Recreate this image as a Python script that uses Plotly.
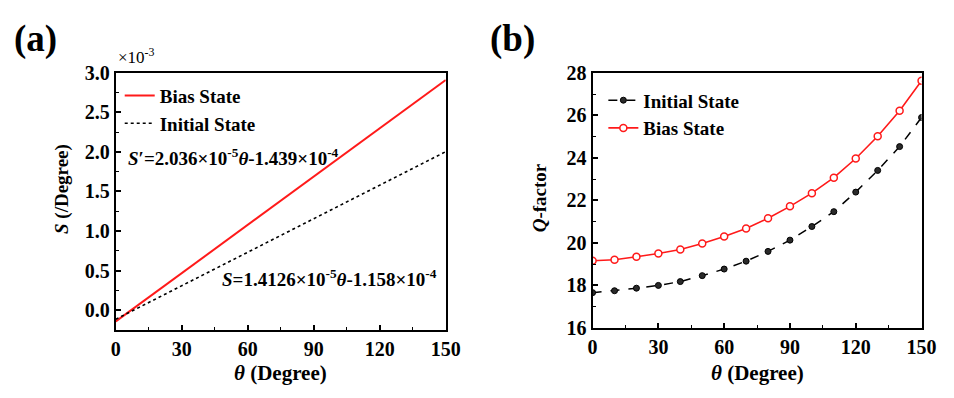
import plotly.graph_objects as go

# ---------------- data ----------------
theta_a = [0, 150]
S_bias = [-0.144, 2.910]      # x10^-3 /Degree
S_init = [-0.116, 2.003]

theta_b = [0, 10, 20, 30, 40, 50, 60, 70, 80, 90, 100, 110, 120, 130, 140, 150]
Q_init = [17.66, 17.75, 17.87, 18.00, 18.18, 18.46, 18.77, 19.14, 19.60, 20.13,
          20.77, 21.47, 22.39, 23.41, 24.53, 25.90]
Q_bias = [19.16, 19.21, 19.35, 19.50, 19.69, 19.97, 20.30, 20.68, 21.16, 21.72,
          22.34, 23.07, 23.97, 25.02, 26.22, 27.63]

x_ticks = [0, 30, 60, 90, 120, 150]
ya_ticks = [0.0, 0.5, 1.0, 1.5, 2.0, 2.5, 3.0]
ya_ticklabels = ["0.0", "0.5", "1.0", "1.5", "2.0", "2.5", "3.0"]
yb_ticks = [16, 18, 20, 22, 24, 26, 28]

W, H = 954, 398
OFF = 8  # page body margin
FONT = "Liberation Serif"

def px(x):
    return (x - OFF) / W

def py(y):
    return (H - (y - OFF)) / H

fig = go.Figure()

fig.add_trace(go.Scatter(x=theta_a, y=S_bias, mode="lines", name="<b>Bias State</b>",
                         line=dict(color="#ff1a1a", width=2), xaxis="x", yaxis="y",
                         legend="legend"))
fig.add_trace(go.Scatter(x=theta_a, y=S_init, mode="lines", name="<b>Initial State</b>",
                         line=dict(color="black", width=1.6, dash="dot"), xaxis="x", yaxis="y",
                         legend="legend"))

fig.add_trace(go.Scatter(x=theta_b, y=Q_init, mode="lines+markers", name="<b>Initial State</b>",
                         line=dict(color="black", width=1.5, dash="dash"),
                         marker=dict(symbol="circle", size=6, color="#2a2a2a",
                                     line=dict(color="black", width=1)),
                         xaxis="x2", yaxis="y2", legend="legend2"))
fig.add_trace(go.Scatter(x=theta_b, y=Q_bias, mode="lines+markers", name="<b>Bias State</b>",
                         line=dict(color="#ff1a1a", width=1.6),
                         marker=dict(symbol="circle", size=7, color="white",
                                     line=dict(color="#ff1a1a", width=1.5)),
                         xaxis="x2", yaxis="y2", legend="legend2"))

tickfont = dict(family=FONT, size=20, color="black", weight="bold")
common = dict(showline=True, linewidth=2, linecolor="black", mirror=True,
              ticks="inside", ticklen=5, tickwidth=1.5, tickcolor="black",
              showgrid=False, zeroline=False, tickfont=tickfont)
minor = dict(ticks="inside", ticklen=3, tickwidth=1.2, tickcolor="black", showgrid=False)

fig.update_layout(
    width=W, height=H,
    margin=dict(l=0, r=0, t=0, b=0),
    paper_bgcolor="white", plot_bgcolor="white",
    showlegend=True,
    xaxis=dict(domain=[px(113), px(450)], range=[0, 150], tickvals=x_ticks,
               minor=dict(dtick=15, **minor), anchor="y", **common),
    yaxis=dict(domain=[py(337), py(65)], range=[-0.25, 3.0], tickvals=ya_ticks,
               ticktext=ya_ticklabels, minor=dict(dtick=0.25, tick0=0, **minor),
               anchor="x", **common),
    xaxis2=dict(domain=[px(600), px(936)], range=[0, 150], tickvals=x_ticks,
                minor=dict(dtick=15, **minor), anchor="y2", **common),
    yaxis2=dict(domain=[py(335), py(65)], range=[16, 28], tickvals=yb_ticks,
                minor=dict(dtick=1, tick0=16, **minor), anchor="x2", **common),
    legend=dict(x=px(117), y=py(69), xanchor="left", yanchor="top",
                bgcolor="rgba(0,0,0,0)", font=dict(family=FONT, size=19, color="black"),
                tracegroupgap=0, itemwidth=30),
    legend2=dict(x=px(611), y=py(74), xanchor="left", yanchor="top",
                 bgcolor="rgba(0,0,0,0)", font=dict(family=FONT, size=19, color="black"),
                 tracegroupgap=0, itemwidth=30),
)

ann_font = dict(family=FONT, color="black")
annotations = [
    dict(x=px(7), y=py(29), text="<b>(a)</b>", font=dict(size=37, **ann_font),
         xanchor="left", yanchor="middle"),
    dict(x=px(493), y=py(29), text="<b>(b)</b>", font=dict(size=37, **ann_font),
         xanchor="left", yanchor="middle"),
    dict(x=px(113), y=py(47), text="×10<sup>-3</sup>", font=dict(size=17, **ann_font),
         xanchor="left", yanchor="middle"),
    dict(x=px(123), y=py(154),
         text="<b><i>S</i>′=2.036×10<sup>-5</sup><i>θ</i>-1.439×10<sup>-4</sup></b>",
         font=dict(size=19, **ann_font), xanchor="left", yanchor="middle"),
    dict(x=px(219), y=py(282),
         text="<b><i>S</i>=1.4126×10<sup>-5</sup><i>θ</i>-1.158×10<sup>-4</sup></b>",
         font=dict(size=19, **ann_font), xanchor="left", yanchor="middle"),
    dict(x=px(281), y=py(383), text="<b><i>θ</i> (Degree)</b>", font=dict(size=21, **ann_font),
         xanchor="center", yanchor="middle"),
    dict(x=px(768), y=py(383), text="<b><i>θ</i> (Degree)</b>", font=dict(size=21, **ann_font),
         xanchor="center", yanchor="middle"),
    dict(x=px(58), y=py(188), text="<b><i>S</i> (/Degree)</b>", font=dict(size=19, **ann_font),
         textangle=-90, xanchor="center", yanchor="middle"),
    dict(x=px(546), y=py(197), text="<b><i>Q</i>-factor</b>", font=dict(size=19, **ann_font),
         textangle=-90, xanchor="center", yanchor="middle"),
]
for a in annotations:
    a.update(xref="paper", yref="paper", showarrow=False)
fig.update_layout(annotations=annotations)

fig.write_html("out.html")
